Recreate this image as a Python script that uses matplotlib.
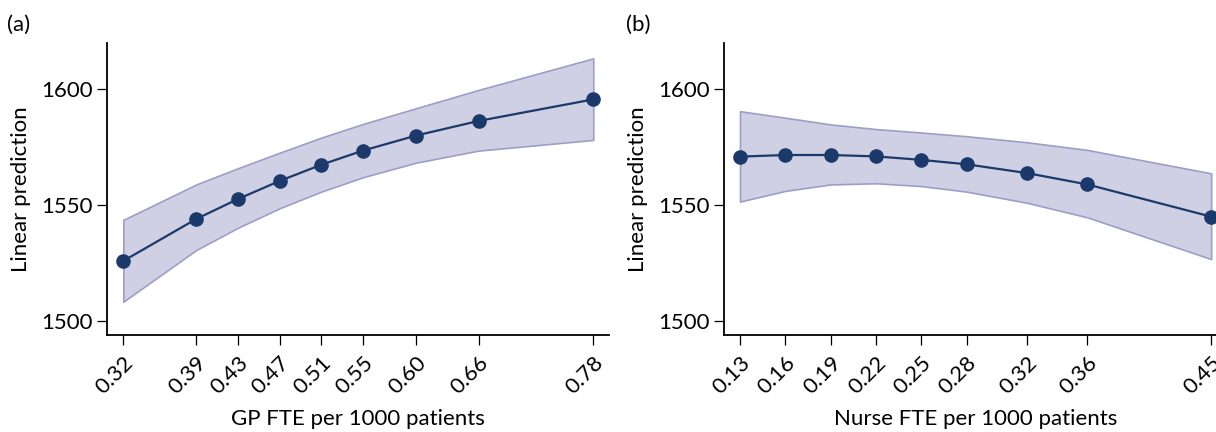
import numpy as np
import matplotlib.pyplot as plt

plt.rcParams['font.family'] = ['Lato', 'DejaVu Sans']

# GP FTE per 1000 patients: margins and 95% CI
gp_x = [0.324, 0.394, 0.434, 0.474, 0.514, 0.554, 0.605, 0.665, 0.775]
gp_labels = ['0.32', '0.39', '0.43', '0.47', '0.51', '0.55', '0.60', '0.66', '0.78']
gp_pred = [1525.8, 1543.9, 1552.5, 1560.3, 1567.3, 1573.4, 1579.9, 1586.2, 1595.5]
gp_upper = [1543.5, 1558.8, 1565.8, 1572.5, 1579.0, 1584.9, 1591.7, 1599.6, 1613.2]
gp_lower = [1508.2, 1530.5, 1540.1, 1548.5, 1555.7, 1561.9, 1568.2, 1573.4, 1578.0]

# Nurse FTE per 1000 patients: margins and 95% CI
nurse_x = [0.134, 0.164, 0.194, 0.224, 0.254, 0.284, 0.324, 0.364, 0.446]
nurse_labels = ['0.13', '0.16', '0.19', '0.22', '0.25', '0.28', '0.32', '0.36', '0.45']
nurse_pred = [1570.8, 1571.5, 1571.5, 1570.9, 1569.4, 1567.5, 1563.7, 1558.8, 1544.9]
nurse_upper = [1590.4, 1587.6, 1584.7, 1582.7, 1581.2, 1579.6, 1577.0, 1573.7, 1563.6]
nurse_lower = [1551.4, 1556.0, 1558.8, 1559.3, 1558.1, 1555.7, 1550.9, 1544.6, 1526.6]

line_col = '#1b3a6b'
fill_col = '#cfd0e3'
edge_col = '#9c9ec9'
fs = 16

fig = plt.figure(figsize=(12.16, 4.32), dpi=100)
ax_a = fig.add_axes([107.3 / 1216, 1 - 335.3 / 432, (609 - 107.3) / 1216, 292 / 432])
ax_b = fig.add_axes([724 / 1216, 1 - 335.3 / 432, (1227 - 724) / 1216, 292 / 432])


def draw_panel(ax, x, pred, lo, hi, labels, xlabel, xlim):
    ax.fill_between(x, lo, hi, facecolor=fill_col, edgecolor=edge_col, linewidth=1.2, zorder=1)
    ax.plot(x, pred, color=line_col, linewidth=1.6, marker='o', markersize=9.5, zorder=3,
            clip_on=False)
    ax.set_xlim(*xlim)
    ax.set_ylim(1493.7, 1619.7)
    ax.set_yticks([1500, 1550, 1600])
    ax.set_xticks(x)
    ax.set_xticklabels(labels, rotation=45, ha='right', rotation_mode='anchor')
    for s in ['top', 'right']:
        ax.spines[s].set_visible(False)
    for s in ['left', 'bottom']:
        ax.spines[s].set_linewidth(1.3)
    ax.tick_params(axis='both', direction='out', length=7, width=0.9, labelsize=fs,
                   color='black', labelcolor='black', pad=3.5)
    ax.tick_params(axis='x', pad=5.5)
    ax.set_ylabel('Linear prediction', fontsize=fs, labelpad=7)
    ax.set_xlabel(xlabel, fontsize=fs, labelpad=8)


draw_panel(ax_a, gp_x, gp_pred, gp_lower, gp_upper, gp_labels,
           'GP FTE per 1000 patients', (0.3086, 0.7901))
draw_panel(ax_b, nurse_x, nurse_pred, nurse_lower, nurse_upper, nurse_labels,
           'Nurse FTE per 1000 patients', (0.1234, 0.4565))

fig.text(7 / 1216, 1 - 25 / 432, '(a)', fontsize=fs, va='center', ha='left')
fig.text(626 / 1216, 1 - 25 / 432, '(b)', fontsize=fs, va='center', ha='left')

fig.savefig('out.png', dpi=100)
